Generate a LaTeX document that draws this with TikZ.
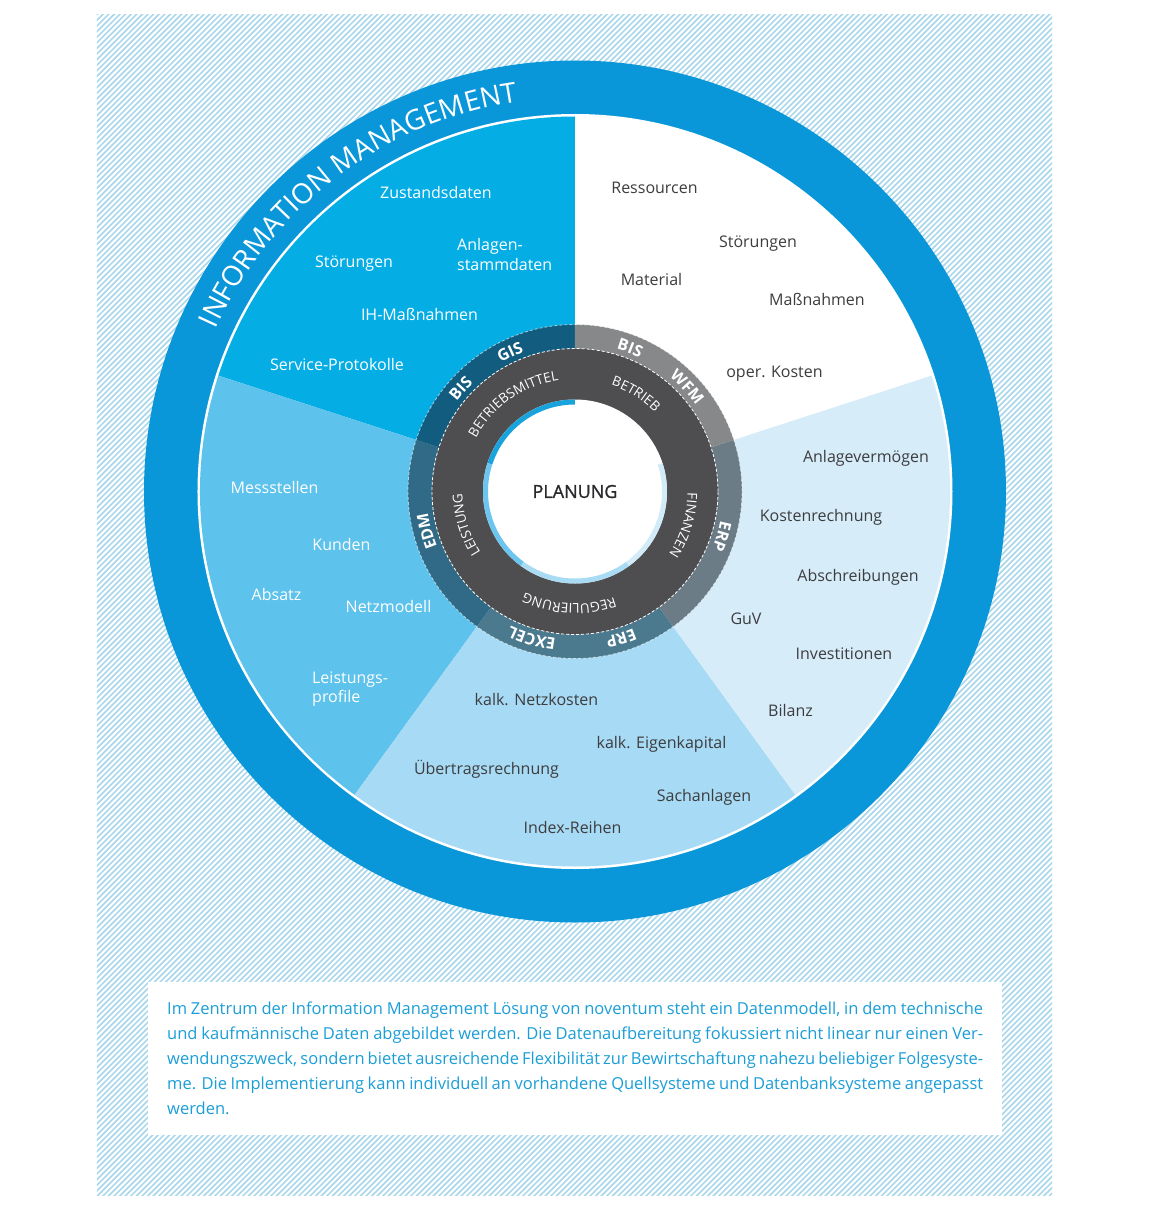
\documentclass[tikz,border=0pt]{standalone}
\usepackage{fontspec}
\setmainfont{Open Sans}
\newfontfamily\semibfont{Open Sans}[FakeBold=1.1]
\usetikzlibrary{decorations.text}
\definecolor{ringblue}{HTML}{0A97D9}
\definecolor{secA}{HTML}{05ADE5}
\definecolor{secB}{HTML}{5DC2EC}
\definecolor{secC}{HTML}{A7DAF4}
\definecolor{secD}{HTML}{D6ECF9}
\definecolor{segA}{HTML}{125C7F}
\definecolor{segB}{HTML}{306A86}
\definecolor{segC}{HTML}{4B798E}
\definecolor{segD}{HTML}{6B7C87}
\definecolor{segE}{HTML}{87888A}
\definecolor{darkring}{HTML}{4E4D4F}
\definecolor{inA}{HTML}{19A3DD}
\definecolor{inB}{HTML}{6BC5EE}
\definecolor{inC}{HTML}{A9DCF4}
\definecolor{inD}{HTML}{D2EBF8}
\definecolor{hatchblue}{HTML}{A6D6EC}
\definecolor{bodyblue}{HTML}{1B9ED8}
\definecolor{labdark}{HTML}{3D3D3F}
\definecolor{planc}{HTML}{2A2A2C}
\newcommand\annseg[5]{\fill[#5] (#3:#1pt) arc[start angle=#3,end angle=#4,radius=#1pt] -- (#4:#2pt) arc[start angle=#4,end angle=#3,radius=#2pt] -- cycle;}
\newcommand\ctext[5]{\path[decorate,decoration={text along path,text align=center,text={|#4|#5}}] (#2+#3:#1pt) arc[start angle=#2+#3,end angle=#2-#3,radius=#1pt];}
\newcommand\ringfont{\color{white}\bfseries\fontsize{16}{16}\selectfont}
\newcommand\innerfont{\color{white}\fontsize{13.5}{14}\selectfont}
\newcommand\imfont{\color{white}\fontsize{28}{30}\selectfont}
\tikzset{
  lblw/.style={font=\fontsize{16}{19}\selectfont, text=white, inner sep=0pt, text height=11.5pt, text depth=0pt},
  lbld/.style={lblw, text=labdark},
  bodyline/.style={anchor=west, inner sep=0pt, font=\fontsize{16.5}{20}\selectfont, text=bodyblue, text height=12pt, text depth=0pt},
  hatchline/.style={draw=hatchblue, line width=1.5pt},
  dashcirc/.style={draw=white, line width=0.8pt, dash pattern=on 3pt off 2pt},
}
\begin{document}
\begin{tikzpicture}[x=1pt,y=1pt]
\useasboundingbox (-575,-716.5) rectangle (575,491.5);
\fill[white] (-575,-716.5) rectangle (575,491.5);
% hatched background
\begin{scope}
\clip (-478,476.5) rectangle (477,-703.5);
\foreach \c in {-1190,-1184.4,...,962} \draw[hatchline] (-480,-480+\c) -- (480,480+\c);
\end{scope}
% outer ring and sectors
\fill[ringblue] (0,0) circle[radius=431pt];
\fill[white] (0,0) circle[radius=377.5pt];
\fill[secA] (0,0) -- (90:375pt) arc[start angle=90,end angle=162,radius=375pt] -- cycle;
\fill[secB] (0,0) -- (162:375pt) arc[start angle=162,end angle=234,radius=375pt] -- cycle;
\fill[secC] (0,0) -- (234:375pt) arc[start angle=234,end angle=306,radius=375pt] -- cycle;
\fill[secD] (0,0) -- (306:375pt) arc[start angle=306,end angle=378,radius=375pt] -- cycle;
\ctext{394}{127}{40}{\imfont}{INFORMATION MANAGEMENT}
% sector labels
\node[lblw] (z1) at (-139,298.5) {Zustandsdaten};
\node[lblw] (z2) at (-221,229.5) {Störungen};
\node[lblw,anchor=west] (z3) at (-118,246.5) {Anlagen-};
\node[lblw,anchor=west] (z4) at (-118,226.5) {stammdaten};
\node[lblw] (z5) at (-155.5,176.5) {IH-Maßnahmen};
\node[lblw] (z6) at (-238,126.5) {Service-Protokolle};
\node[lbld] (r1) at (79.5,303.5) {Ressourcen};
\node[lbld] (r2) at (183,249.5) {Störungen};
\node[lbld] (r3) at (76.5,211.5) {Material};
\node[lbld] (r4) at (242,191.5) {Maßnahmen};
\node[lbld] (r5) at (199.5,119.5) {oper. Kosten};
\node[lblw] (l1) at (-300.5,3.5) {Messstellen};
\node[lblw] (l2) at (-233.5,-53.5) {Kunden};
\node[lblw] (l3) at (-298.5,-103.5) {Absatz};
\node[lblw] (l4) at (-186.5,-115.5) {Netzmodell};
\node[lblw,anchor=west] (l5) at (-263,-186.5) {Leistungs-};
\node[lblw,anchor=west] (l6) at (-263,-205.5) {profile};
\node[lbld] (b1) at (-38.5,-208.5) {kalk. Netzkosten};
\node[lbld] (b2) at (86.5,-251.5) {kalk. Eigenkapital};
\node[lbld] (b3) at (-88.5,-277.5) {Übertragsrechnung};
\node[lbld] (b4) at (129,-304.5) {Sachanlagen};
\node[lbld] (b5) at (-2.5,-336.5) {Index-Reihen};
\node[lbld] (f1) at (291,34.5) {Anlagevermögen};
\node[lbld] (f2) at (246,-24.5) {Kostenrechnung};
\node[lbld] (f3) at (283,-84.5) {Abschreibungen};
\node[lbld] (f4) at (171,-127.5) {GuV};
\node[lbld] (f5) at (269,-162.5) {Investitionen};
\node[lbld] (f6) at (215.5,-219.5) {Bilanz};
% data ring
\annseg{143}{167}{90}{162}{segA}
\annseg{143}{167}{162}{234}{segB}
\annseg{143}{167}{234}{306}{segC}
\annseg{143}{167}{306}{378}{segD}
\annseg{143}{167}{18}{90}{segE}
\fill[darkring] (0,0) circle[radius=143pt];
\fill[white] (0,0) circle[radius=92pt];
\annseg{87}{92}{90}{162}{inA}
\annseg{87}{92}{162}{234}{inB}
\annseg{87}{92}{234}{306}{inC}
\annseg{87}{92}{306}{378}{inD}
\draw[dashcirc] (0,0) circle[radius=143pt];
\draw[dashcirc, draw opacity=0.6] (0,0) circle[radius=167pt];
% ring labels
\ctext{148.5}{115}{18}{\ringfont}{GIS}
\ctext{148.5}{138}{18}{\ringfont}{BIS}
\ctext{148.5}{69}{18}{\ringfont}{BIS}
\ctext{148.5}{43}{18}{\ringfont}{WFM}
\ctext{148.5}{-17}{18}{\ringfont}{ERP}
\ctext{148.5}{-72.5}{18}{\ringfont}{ERP}
\ctext{148.5}{-106.5}{18}{\ringfont}{EXCEL}
\ctext{148.5}{195}{18}{\ringfont}{EDM}
\ctext{112.5}{125}{45}{\innerfont}{BETRIEBSMITTEL}
\ctext{112.5}{58}{40}{\innerfont}{BETRIEB}
\ctext{112.5}{-17}{40}{\innerfont}{FINANZEN}
\ctext{112.5}{-93}{40}{\innerfont}{REGULIERUNG}
\ctext{112.5}{197}{40}{\innerfont}{LEISTUNG}
\node[font=\semibfont\fontsize{18}{20}\selectfont, text=planc, inner sep=0pt] (plan) at (0,0) {PLANUNG};
% text box
\fill[white] (-427,-490.5) rectangle (427,-643.5);
\node[bodyline] (t1) at (-408,-516.5) {\makebox[816pt][s]{Im Zentrum der Information Management Lösung von noventum steht ein Datenmodell, in dem technische}};
\node[bodyline] (t2) at (-408,-541.7) {\makebox[816pt][s]{und kaufmännische Daten abgebildet werden. Die Datenaufbereitung fokussiert nicht linear nur einen Ver-}};
\node[bodyline] (t3) at (-408,-566.9) {\makebox[816pt][s]{wendungszweck, sondern bietet ausreichende Flexibilität zur Bewirtschaftung nahezu beliebiger Folgesyste-}};
\node[bodyline] (t4) at (-408,-592.1) {\makebox[816pt][s]{me. Die Implementierung kann individuell an vorhandene Quellsysteme und Datenbanksysteme angepasst}};
\node[bodyline] (t5) at (-408,-617.3) {werden.};
\end{tikzpicture}
\end{document}
